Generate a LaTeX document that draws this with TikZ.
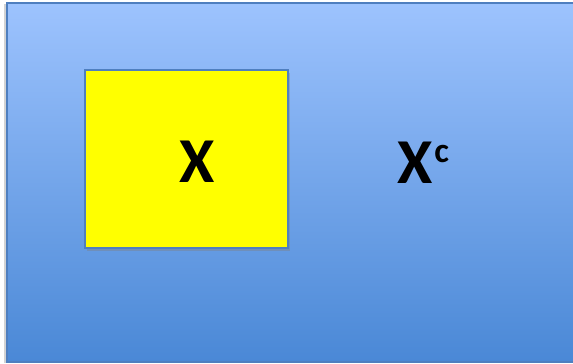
\documentclass[tikz,border=0pt]{standalone}
\usepackage{fontspec}
\setmainfont{Carlito}
\usetikzlibrary{shadows}
\definecolor{skytop}{HTML}{9DC3FE}
\definecolor{skybot}{HTML}{4A88D6}
\definecolor{rim}{HTML}{4F7FBF}
\definecolor{setfill}{HTML}{FFFF00}
\begin{document}
\begin{tikzpicture}[x=1pt,y=-1pt,
  univ/.style={draw=rim,line width=1.6pt,top color=skytop,bottom color=skybot,
               minimum width=573pt,minimum height=359pt,inner sep=0pt,
               drop shadow={shadow xshift=-3pt,shadow yshift=-1pt,opacity=0.35}},
  setbox/.style={draw=rim,line width=1.2pt,fill=setfill,minimum width=203pt,
                 minimum height=178pt,inner sep=0pt,
                 drop shadow={shadow xshift=2pt,shadow yshift=-3pt,opacity=0.4}},
  big/.style={font=\fontsize{64}{64}\selectfont\bfseries,inner sep=0pt}]
  \useasboundingbox (0,0) rectangle (573,364);
  \node[univ] (U) at (293.5,182.5) {};
  \node[setbox] (S) at (186.5,159) {};
  \node[big] (x) at (197,162) {X};
  \node[big,anchor=base west] (xc) at (397,183)
    {X\kern2pt\raisebox{21pt}{\fontsize{35}{35}\selectfont c}};
\end{tikzpicture}
\end{document}
